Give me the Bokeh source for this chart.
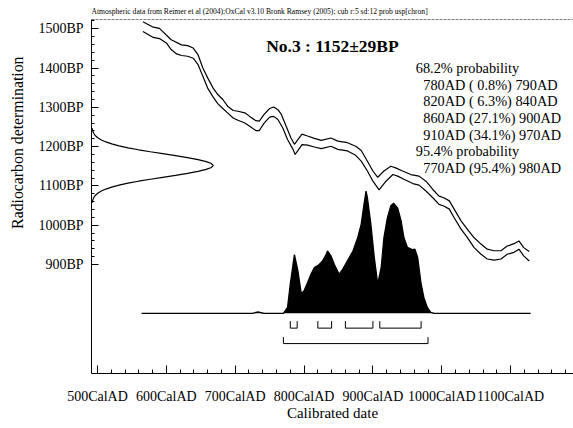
from bokeh.plotting import figure
from bokeh.models import FixedTicker, PrintfTickFormatter, Range1d, Label, Span, Title
from bokeh.embed import file_html
from bokeh.resources import INLINE

# ---------------- data ----------------
x_major_ticks = [500, 600, 700, 800, 900, 1000, 1100]
y_major_ticks = [900, 1000, 1100, 1200, 1300, 1400, 1500]

# calibration curve (+1 sigma / -1 sigma lines), cal AD vs BP
upper_year = [566, 581, 590, 607, 622, 631, 639, 646, 653, 660,
              668, 675, 682, 689, 697, 704, 714, 721, 730, 735,
              742, 750, 756, 762, 767, 774, 781, 786, 791, 797,
              805, 815, 825, 839, 849, 863, 875, 883, 892, 900,
              907, 916, 926, 933, 943, 955, 967, 977, 987, 996,
              1003, 1011, 1018, 1028, 1037, 1047, 1057, 1066, 1076, 1086,
              1095, 1105, 1112, 1119, 1127]
upper_bp = [1518, 1504, 1501, 1472, 1459, 1457, 1451, 1434, 1400, 1375,
            1349, 1332, 1320, 1303, 1292, 1290, 1286, 1277, 1266, 1265,
            1282, 1297, 1301, 1294, 1282, 1252, 1222, 1206, 1218, 1232,
            1227, 1221, 1216, 1222, 1214, 1210, 1201, 1190, 1163, 1138,
            1122, 1138, 1150, 1146, 1138, 1129, 1125, 1112, 1091, 1074,
            1070, 1062, 1041, 1011, 990, 968, 952, 939, 935, 935,
            947, 953, 960, 943, 933]
lower_year = [566, 581, 590, 600, 607, 615, 622, 631, 639, 646,
              653, 660, 668, 675, 682, 689, 697, 704, 714, 721,
              730, 735, 742, 750, 756, 762, 769, 776, 784, 787,
              791, 797, 805, 815, 825, 839, 849, 863, 875, 883,
              892, 900, 909, 919, 929, 936, 945, 958, 967, 977,
              987, 996, 1003, 1011, 1018, 1028, 1037, 1047, 1057, 1066,
              1076, 1086, 1095, 1105, 1112, 1119, 1127]
lower_bp = [1493, 1478, 1475, 1464, 1447, 1436, 1432, 1430, 1425, 1409,
            1379, 1349, 1326, 1309, 1297, 1286, 1273, 1267, 1260, 1252,
            1241, 1241, 1260, 1275, 1277, 1269, 1248, 1218, 1193, 1180,
            1190, 1205, 1204, 1199, 1195, 1201, 1193, 1189, 1178, 1163,
            1138, 1112, 1090, 1112, 1129, 1125, 1117, 1106, 1102, 1087,
            1070, 1053, 1049, 1041, 1019, 990, 969, 943, 926, 914,
            911, 914, 926, 931, 939, 922, 909]

# radiocarbon measurement 1152 +/- 29 BP (relative density)
meas_bp = [1057, 1062, 1067, 1072, 1077, 1082, 1087, 1092, 1097, 1102,
           1107, 1112, 1117, 1122, 1127, 1132, 1137, 1142, 1147, 1152,
           1157, 1162, 1167, 1172, 1177, 1182, 1187, 1192, 1197, 1202,
           1207, 1212, 1217, 1222, 1227, 1232, 1237, 1242, 1247]
meas_rel = [0.005, 0.008, 0.014, 0.022, 0.035, 0.054, 0.081, 0.118, 0.166, 0.226,
            0.300, 0.386, 0.483, 0.585, 0.690, 0.788, 0.875, 0.942, 0.985, 1.000,
            0.985, 0.942, 0.875, 0.788, 0.690, 0.585, 0.483, 0.386, 0.300, 0.226,
            0.166, 0.118, 0.081, 0.054, 0.035, 0.022, 0.014, 0.008, 0.005]

# calibrated probability distribution (relative)
dist_year = [564, 725, 733, 742, 770, 776, 780, 784, 786, 791,
             796, 800, 805, 810, 815, 822, 827, 832, 834, 839,
             844, 851, 856, 863, 871, 878, 883, 887, 890, 892,
             897, 902, 907, 912, 916, 921, 926, 930, 936, 941,
             945, 950, 958, 961, 965, 970, 974, 979, 984, 989,
             1000, 1129]
dist_prob = [0, 0, 0.012, 0, 0, 0.049, 0.24, 0.40, 0.48, 0.35,
             0.16, 0.185, 0.25, 0.32, 0.375, 0.40, 0.43, 0.48, 0.51, 0.47,
             0.40, 0.32, 0.36, 0.43, 0.51, 0.62, 0.73, 0.89, 1.0, 0.945,
             0.73, 0.456, 0.24, 0.375, 0.62, 0.78, 0.88, 0.90, 0.86, 0.755,
             0.62, 0.54, 0.52, 0.525, 0.456, 0.24, 0.13, 0.049, 0.008, 0,
             0, 0]

# ranges
range68_from = [780, 820, 860, 910]
range68_to = [790, 840, 900, 970]
range95_from = [770]
range95_to = [980]

title_text = ("Atmospheric data from Reimer et al (2004);OxCal v3.10 Bronk Ramsey (2005); "
              "cub r:5 sd:12 prob usp[chron]")
sample_text = "No.3 : 1152\u00b129BP"
range_lines = ["68.2% probability",
               "780AD ( 0.8%) 790AD",
               "820AD ( 6.3%) 840AD",
               "860AD (27.1%) 900AD",
               "910AD (34.1%) 970AD",
               "95.4% probability",
               "770AD (95.4%) 980AD"]
range_indent = [False, True, True, True, True, False, True]

# ---------------- layout ----------------
W, H = 573, 428
ML, MR, MT, MB = 90, 0, 18, 55
x0, x1 = 491.3, 1191.3
y0, y1 = 622.6, 1523.6
FW, FH = W - ML - MR, H - MT - MB


def X(px):
    return x0 + (px - ML) * (x1 - x0) / FW


def Y(py):
    return y1 - (py - MT) * (y1 - y0) / FH


FONT = "Liberation Serif"

p = figure(width=W, height=H, x_range=Range1d(x0, x1), y_range=Range1d(y0, y1),
           output_backend="svg", toolbar_location=None,
           min_border_left=ML, min_border_right=MR, min_border_top=MT, min_border_bottom=MB)
p.grid.visible = False
p.outline_line_color = None
p.background_fill_color = "white"
p.border_fill_color = "white"

# small header line
p.title.text = title_text
p.title.align = "left"
p.title.text_font = FONT
p.title.text_font_size = "7.6px"
p.title.text_font_style = "normal"
p.title.text_color = "black"
p.title.standoff = 8

# y-axis caption (placed in the left panel, anchored near the top)
p.add_layout(Title(text="Radiocarbon determination", align="right", offset=37,
                   vertical_align="top",
                   text_font=FONT, text_font_size="15.8px", text_font_style="normal",
                   text_color="black", standoff=16), "left")

xa = p.xaxis[0]
xa.ticker = FixedTicker(ticks=x_major_ticks, minor_ticks=list(range(500, 1191, 20)))
xa.formatter = PrintfTickFormatter(format="%dCalAD")
xa.major_tick_in, xa.major_tick_out = 8, 0
xa.minor_tick_in, xa.minor_tick_out = 4, 0
xa.major_label_standoff = 15
xa.major_label_text_font = FONT
xa.major_label_text_font_size = "14px"
xa.major_label_text_color = "black"
xa.axis_label = "Calibrated date"
xa.axis_label_text_font = FONT
xa.axis_label_text_font_size = "15px"
xa.axis_label_text_font_style = "normal"
xa.axis_label_text_color = "black"
xa.axis_label_standoff = -2
xa.axis_line_color = "black"
xa.major_tick_line_color = "black"
xa.minor_tick_line_color = "black"

ya = p.yaxis[0]
ya.ticker = FixedTicker(ticks=y_major_ticks, minor_ticks=list(range(900, 1521, 20)))
ya.formatter = PrintfTickFormatter(format="%dBP")
ya.major_tick_in, ya.major_tick_out = 7, 0
ya.minor_tick_in, ya.minor_tick_out = 3, 0
ya.major_label_standoff = 8
ya.major_label_text_font = FONT
ya.major_label_text_font_size = "14px"
ya.major_label_text_color = "black"
ya.axis_line_color = "black"
ya.major_tick_line_color = "black"
ya.minor_tick_line_color = "black"

# top border
p.add_layout(Span(location=y1, dimension="width", line_color="black", line_width=1,
                  line_dash="3 1"))

# calibration curve
p.line(upper_year, upper_bp, line_color="black", line_width=1.2)
p.line(lower_year, lower_bp, line_color="black", line_width=1.2)

# measurement distribution on y-axis
meas_scale = X(212) - x0
p.line([x0 + r * meas_scale for r in meas_rel], meas_bp, line_color="black", line_width=1.2)

# calibrated distribution
base_bp = Y(312.7)
dist_scale = Y(190) - base_bp
dist_top = [base_bp + v * dist_scale for v in dist_prob]
p.varea(x=dist_year, y1=[base_bp] * len(dist_year), y2=dist_top, fill_color="black")
p.line(dist_year, dist_top, line_color="black", line_width=1.3)


# range brackets
def brackets(froms, tos, top_py, bot_py):
    xs, ys = [], []
    for a, b in zip(froms, tos):
        xs.append([a, a, b, b])
        ys.append([Y(top_py), Y(bot_py), Y(bot_py), Y(top_py)])
    p.multi_line(xs, ys, line_color="black", line_width=1)


brackets(range68_from, range68_to, 320.5, 327.5)
brackets(range95_from, range95_to, 336.5, 343.0)

# texts inside the frame
p.add_layout(Label(x=X(265), y=Y(45), text=sample_text, text_font=FONT,
                   text_font_size="17.5px", text_font_style="bold", text_color="black",
                   text_baseline="alphabetic"))
for i, (t, ind) in enumerate(zip(range_lines, range_indent)):
    p.add_layout(Label(x=X(422.5 if ind else 415), y=Y(66.7 + i * 16.67), text=t,
                       text_font=FONT, text_font_size="14.3px", text_color="black",
                       text_baseline="alphabetic"))

open("out.html", "w").write(file_html(p, INLINE))
